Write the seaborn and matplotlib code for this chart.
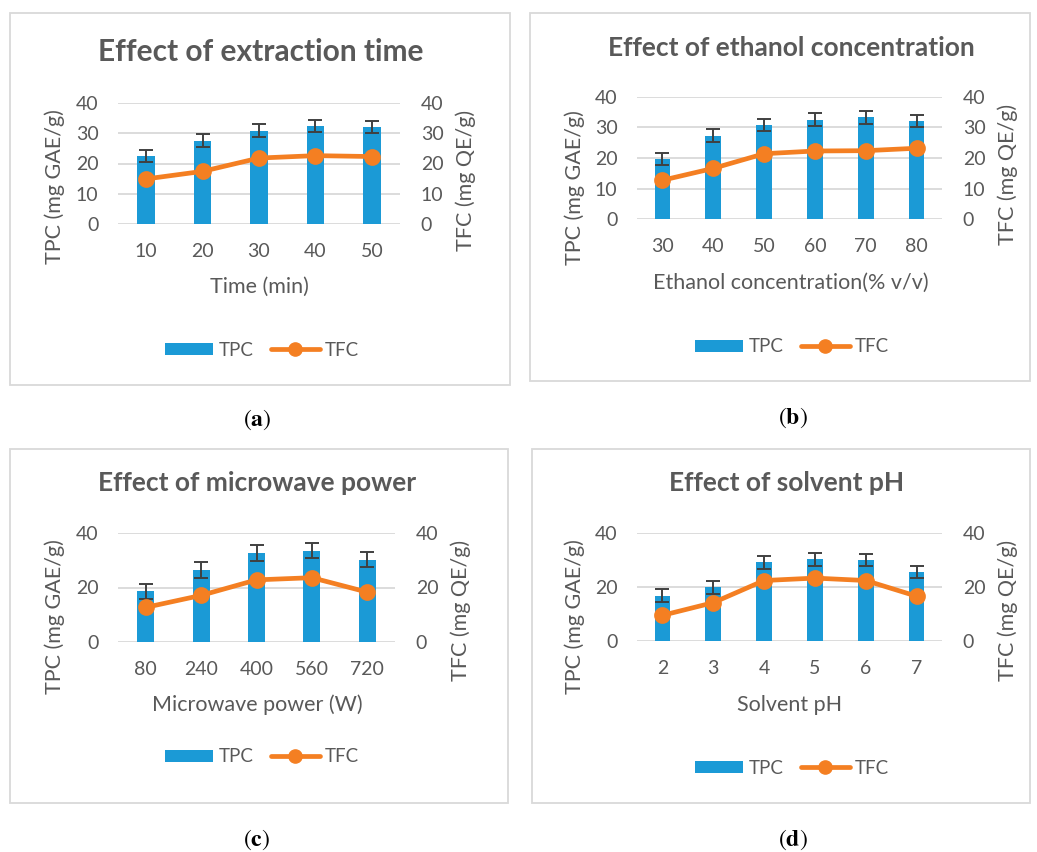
import numpy as np
import matplotlib.pyplot as plt
from matplotlib.patches import Patch, Rectangle
from matplotlib.lines import Line2D
import seaborn as sns

# (a) extraction time
time_min = ["10", "20", "30", "40", "50"]
tpc_time = [22.4, 27.6, 30.9, 32.5, 32.0]
tpc_time_err = [2.0, 2.0, 2.0, 2.0, 2.0]
tfc_time = [14.9, 17.4, 21.8, 22.6, 22.3]

# (b) ethanol concentration
ethanol_pct = ["30", "40", "50", "60", "70", "80"]
tpc_ethanol = [19.7, 27.3, 30.8, 32.5, 33.4, 32.1]
tpc_ethanol_err = [2.1, 2.2, 2.0, 2.1, 2.1, 2.1]
tfc_ethanol = [12.7, 16.6, 21.4, 22.3, 22.4, 23.2]

# (c) microwave power
power_w = ["80", "240", "400", "560", "720"]
tpc_power = [18.6, 26.4, 32.8, 33.5, 30.2]
tpc_power_err = [2.8, 2.8, 2.9, 2.8, 2.8]
tfc_power = [12.7, 17.1, 22.8, 23.6, 18.3]

# (d) solvent pH
solvent_ph = ["2", "3", "4", "5", "6", "7"]
tpc_ph = [16.7, 19.9, 29.2, 30.2, 29.9, 25.5]
tpc_ph_err = [2.4, 2.5, 2.4, 2.3, 2.3, 2.3]
tfc_ph = [9.5, 14.2, 22.4, 23.3, 22.4, 16.6]

titles = ["Effect of extraction time", "Effect of ethanol concentration",
          "Effect of microwave power", "Effect of solvent pH"]
xlabels = ["Time (min)", "Ethanol concentration(% v/v)",
           "Microwave power (W)", "Solvent pH"]
captions = ["a", "b", "c", "d"]

BLUE = "#1B9AD6"
ORANGE = "#F47F22"
GREY_TXT = "#595959"
GRID = "#D9D9D9"
TICK_FS = 14
LABEL_FS = 15.5

W, H = 1037, 852

sns.set_theme(style="white")
plt.rcParams["font.family"] = ["Lato", "DejaVu Sans"]
plt.rcParams["mathtext.fontset"] = "stix"

fig = plt.figure(figsize=(W / 100, H / 100), dpi=100)


def fx(px):
    return px / W


def fy(py):
    return 1 - py / H


# layout in pixels: box, plot area, title/label/legend/caption positions
layout = [
    dict(box=(10, 13, 510, 385), area=(118, 103, 400, 224), step=10, title=(261, 52, 21.5),
         xlab=(259, 287), ylab_l=(55, 187), ylab_r=(466, 180), leg=(262, 350), cap=(257, 420)),
    dict(box=(530, 13, 1030, 381), area=(637, 97, 942, 219), step=10, title=(791, 48, 19),
         xlab=(791, 283), ylab_l=(575, 188), ylab_r=(1008, 174), leg=(792, 347), cap=(793, 418)),
    dict(box=(10, 449, 508, 803), area=(118, 533, 395, 642), step=20, title=(257, 483, 19),
         xlab=(257, 705), ylab_l=(55, 617), ylab_r=(461, 610), leg=(262, 757), cap=(257, 840)),
    dict(box=(532, 449, 1030, 803), area=(637, 533, 942, 641), step=20, title=(787, 483, 19),
         xlab=(790, 705), ylab_l=(575, 617), ylab_r=(1008, 610), leg=(792, 768), cap=(793, 840)),
]

panels = [
    (time_min, tpc_time, tpc_time_err, tfc_time),
    (ethanol_pct, tpc_ethanol, tpc_ethanol_err, tfc_ethanol),
    (power_w, tpc_power, tpc_power_err, tfc_power),
    (solvent_ph, tpc_ph, tpc_ph_err, tfc_ph),
]

for i, (cats, tpc, tpc_err, tfc) in enumerate(panels):
    lay = layout[i]
    bx0, by0, bx1, by1 = lay["box"]
    fig.patches.append(Rectangle((fx(bx0), fy(by1)), fx(bx1 - bx0), (by1 - by0) / H,
                                 transform=fig.transFigure, facecolor="white",
                                 edgecolor=GRID, linewidth=1.3, zorder=-5))

    l, t, r, b = lay["area"]
    ax = fig.add_axes([fx(l), fy(b), fx(r - l), (b - t) / H])
    ax.set_facecolor("none")

    def to_ax(px, py):
        return (px - l) / (r - l), (b - py) / (b - t)

    sns.barplot(x=cats, y=tpc, ax=ax, color=BLUE, saturation=1, width=0.31, linewidth=0)
    ax.errorbar(np.arange(len(cats)), tpc, yerr=tpc_err, fmt="none", ecolor="#404040",
                elinewidth=1.4, capsize=5, capthick=1.4, zorder=3)

    ticks = np.arange(0, 41, lay["step"])
    ax.set_ylim(0, 40)
    ax.set_yticks(ticks)
    ax.yaxis.grid(True, color=GRID, linewidth=1.3)
    ax.set_axisbelow(True)
    for s in ax.spines.values():
        s.set_visible(False)
    ax.tick_params(axis="both", length=0, labelsize=TICK_FS, labelcolor=GREY_TXT)
    ax.tick_params(axis="x", pad=14)
    ax.tick_params(axis="y", pad=14)

    ax2 = ax.twinx()
    sns.pointplot(x=cats, y=tfc, ax=ax2, color=ORANGE, markers="o",
                  markersize=9.5, linewidth=3.4)
    ax2.set_ylim(0, 40)
    ax2.set_yticks(ticks)
    for s in ax2.spines.values():
        s.set_visible(False)
    ax2.tick_params(axis="y", length=0, labelsize=TICK_FS, labelcolor=GREY_TXT, pad=15)
    ax2.grid(False)

    ax.set_xlabel(xlabels[i], fontsize=LABEL_FS, color=GREY_TXT)
    ax.xaxis.label.set(va="center", ha="center")
    ax.xaxis.set_label_coords(*to_ax(*lay["xlab"]))
    ax.set_ylabel("TPC (mg GAE/g)", fontsize=LABEL_FS, color=GREY_TXT)
    ax.yaxis.label.set(va="center", ha="center")
    ax.yaxis.set_label_coords(*to_ax(*lay["ylab_l"]))
    ax2.set_ylabel("TFC (mg QE/g)", fontsize=LABEL_FS, color=GREY_TXT)
    ax2.yaxis.label.set(va="center", ha="center")
    ax2.yaxis.set_label_coords(*to_ax(*lay["ylab_r"]))

    tx, ty, ts = lay["title"]
    fig.text(fx(tx), fy(ty), titles[i], ha="center", va="center",
             fontsize=ts, fontweight="bold", color=GREY_TXT)

    handles = [Patch(facecolor=BLUE, edgecolor="none"),
               Line2D([], [], color=ORANGE, lw=3.4, marker="o", markersize=9.5)]
    lx, ly = lay["leg"]
    fig.legend(handles, ["TPC", "TFC"], loc="center", bbox_to_anchor=(fx(lx), fy(ly)),
               ncol=2, frameon=False, fontsize=13.5, labelcolor=GREY_TXT,
               handlelength=2.6, handleheight=0.6, handletextpad=0.3, columnspacing=0.9)

    cx, cy = lay["cap"]
    fig.text(fx(cx), fy(cy), "($\\mathbf{" + captions[i] + "}$)", ha="center", va="center",
             fontsize=17, family="STIXGeneral", color="black")

fig.savefig("out.png", dpi=100, facecolor="white")
